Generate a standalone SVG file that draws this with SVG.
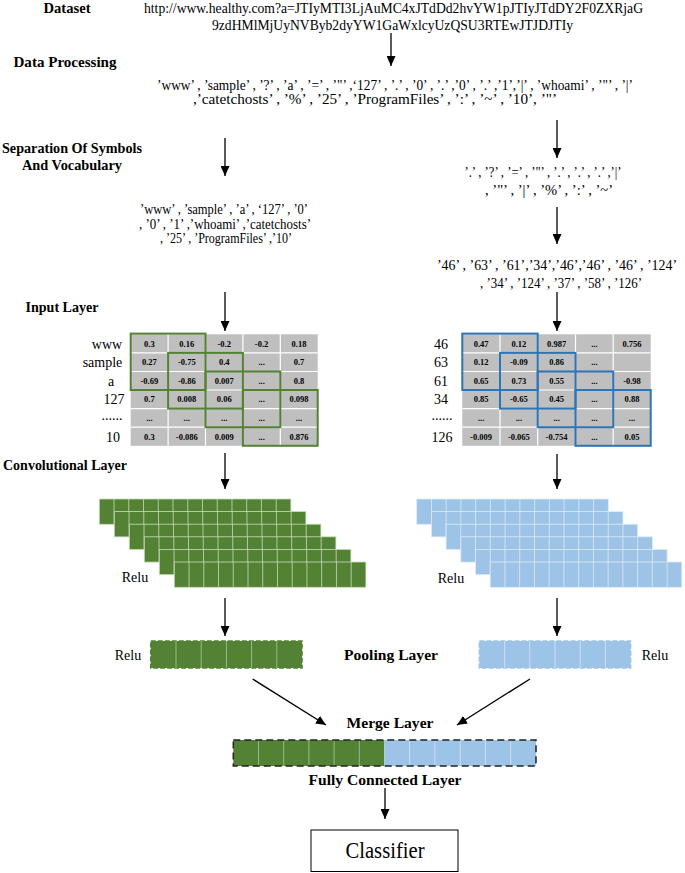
<svg xmlns="http://www.w3.org/2000/svg" xmlns:xlink="http://www.w3.org/1999/xlink" width="685" height="873" viewBox="0 0 685 873" font-family="'Liberation Serif', 'Times New Roman', serif">
<style>
text{font-family:"Liberation Serif","Times New Roman",serif;fill:#000}
.lbl{font-family:"Liberation Serif","Times New Roman",serif;font-weight:bold;font-size:14.5px;text-anchor:middle}
.t{font-size:14px;text-anchor:middle}
.rl{font-size:14px;text-anchor:middle}
.cv{font-size:8.5px;font-weight:bold;text-anchor:middle}
.conn{stroke:#000;stroke-width:1.3;fill:none;marker-end:url(#ah)}
.grid{stroke:#fff;stroke-width:1.2;fill:none}
.gbox{fill:none;stroke:#548235;stroke-width:2}
.bbox{fill:none;stroke:#2E75B6;stroke-width:2}
.green{fill:#548235;stroke:#c9dcbc}
.blue{fill:#9DC3E6;stroke:#deebf7}
</style>
<defs>
<marker id="ah" markerUnits="userSpaceOnUse" markerWidth="10" markerHeight="9" refX="10" refY="4.5" orient="auto">
<path d="M0,0 L10,4.5 L0,9 z" fill="#000"/>
</marker>
<symbol id="layer" overflow="visible">
<rect x="0" y="0" width="191.6" height="25.3" stroke-width="0.8"/>
<path d="M14.74 0v25.3M29.48 0v25.3M44.22 0v25.3M58.96 0v25.3M73.7 0v25.3M88.44 0v25.3M103.18 0v25.3M117.92 0v25.3M132.66 0v25.3M147.4 0v25.3M162.14 0v25.3M176.88 0v25.3" stroke-width="0.8" fill="none"/>
</symbol>
<symbol id="pool" overflow="visible">
<rect x="0" y="0" width="151.2" height="27" stroke-width="1.6" stroke-dasharray="5 2"/>
<path d="M25.2 0v27M50.4 0v27M75.6 0v27M100.8 0v27M126 0v27" stroke-width="0.8" fill="none"/>
</symbol>
</defs>
<rect width="685" height="873" fill="#fff"/>

<g id="labels">
<text class="lbl" x="67" y="13" textLength="47" lengthAdjust="spacingAndGlyphs">Dataset</text>
<text class="lbl" x="65" y="67" textLength="103" lengthAdjust="spacingAndGlyphs">Data Processing</text>
<text class="lbl" x="72" y="153" textLength="140" lengthAdjust="spacingAndGlyphs">Separation Of Symbols</text>
<text class="lbl" x="72" y="170" textLength="100" lengthAdjust="spacingAndGlyphs">And Vocabulary</text>
<text class="lbl" x="62" y="312" textLength="73" lengthAdjust="spacingAndGlyphs">Input Layer</text>
<text class="lbl" x="65" y="470" textLength="124" lengthAdjust="spacingAndGlyphs">Convolutional Layer</text>
<text class="lbl" x="391" y="660" textLength="94" lengthAdjust="spacingAndGlyphs">Pooling Layer</text>
<text class="lbl" x="390" y="728" textLength="87" lengthAdjust="spacingAndGlyphs">Merge Layer</text>
<text class="lbl" x="385" y="785" textLength="153" lengthAdjust="spacingAndGlyphs">Fully Connected Layer</text>
</g>

<g id="dataset">
<text class="t" x="393.5" y="13" textLength="499" lengthAdjust="spacingAndGlyphs">http://www.healthy.com?a=JTIyMTI3LjAuMC4xJTdDd2hvYW1pJTIyJTdDY2F0ZXRjaG</text>
<text class="t" x="392.5" y="30" textLength="361" lengthAdjust="spacingAndGlyphs">9zdHMlMjUyNVByb2dyYW1GaWxlcyUzQSU3RTEwJTJDJTIy</text>
</g>

<g id="processing">
<text class="t" x="395" y="90" font-size="13" textLength="476" lengthAdjust="spacingAndGlyphs">’www’ , ’sample’ , ’?’ , ’a’ , ’=’ , ’"’ ,‘127’ , ’.’ , ’0’ , ’.’ ,’0’ , ’.’ ,’1’,’|’ , ’whoami’ , ’"’ , ’|’</text>
<text class="t" x="375" y="104" font-size="13" textLength="364" lengthAdjust="spacingAndGlyphs">,’catetchosts’ , ’%’ , ’25’ , ’ProgramFiles’ , ’:’ , ’~’ , ’10’, ’"’</text>
</g>

<g id="vocab">
<text class="t" x="224" y="214" textLength="168" lengthAdjust="spacingAndGlyphs">’www’ , ’sample’ , ’a’ , ‘127’ , ’0’</text>
<text class="t" x="225" y="229" textLength="172" lengthAdjust="spacingAndGlyphs">, ’0’ , ’1’ ,’whoami’ ,’catetchosts’</text>
<text class="t" x="226" y="243" textLength="132" lengthAdjust="spacingAndGlyphs">, ’25’ , ’ProgramFiles’ ,’10’</text>
</g>

<g id="symbols">
<text class="t" x="543" y="177" textLength="157" lengthAdjust="spacingAndGlyphs">’.’ , ’?’ , ’=’ , ’"’ , ’.’ , ’.’ , ’.’ ,’|’</text>
<text class="t" x="549" y="195" textLength="128" lengthAdjust="spacingAndGlyphs">, ’"’ , ’|’ , ’%’ , ’:’ , ’~’</text>
</g>

<g id="codes">
<text class="t" x="557" y="270" textLength="240" lengthAdjust="spacingAndGlyphs">’46’ , ’63’ , ’61’,’34’,’46’,’46’ , ’46’ , ’124’</text>
<text class="t" x="561" y="288" textLength="162" lengthAdjust="spacingAndGlyphs">, ’34’ , ’124’ , ’37’ , ’58’ , ’126’</text>
</g>

<g id="matrix-left">
<rect x="130.7" y="334.3" width="187" height="111.5" fill="#BFBFBF"/>
<path class="grid" d="M168.1 334.3v111.5M205.5 334.3v111.5M242.9 334.3v111.5M280.3 334.3v111.5M130.7 352.9h187M130.7 371.5h187M130.7 390h187M130.7 408.6h187M130.7 427.2h187"/>
<text class="rl" x="107" y="348.5">www</text>
<text class="rl" x="102.5" y="367">sample</text>
<text class="rl" x="111" y="385.5">a</text>
<text class="rl" x="114" y="404">127</text>
<text class="rl" x="112" y="420">......</text>
<text class="rl" x="113" y="441.5">10</text>
<g>
<text class="cv" x="149.4" y="346.6">0.3</text><text class="cv" x="186.8" y="346.6">0.16</text><text class="cv" x="224.2" y="346.6">-0.2</text><text class="cv" x="261.6" y="346.6">-0.2</text><text class="cv" x="299" y="346.6">0.18</text>
<text class="cv" x="149.4" y="365.2">0.27</text><text class="cv" x="186.8" y="365.2">-0.75</text><text class="cv" x="224.2" y="365.2">0.4</text><text class="cv" x="261.6" y="365.2">...</text><text class="cv" x="299" y="365.2">0.7</text>
<text class="cv" x="149.4" y="383.8">-0.69</text><text class="cv" x="186.8" y="383.8">-0.86</text><text class="cv" x="224.2" y="383.8">0.007</text><text class="cv" x="261.6" y="383.8">...</text><text class="cv" x="299" y="383.8">0.8</text>
<text class="cv" x="149.4" y="402.3">0.7</text><text class="cv" x="186.8" y="402.3">0.008</text><text class="cv" x="224.2" y="402.3">0.06</text><text class="cv" x="261.6" y="402.3">...</text><text class="cv" x="299" y="402.3">0.098</text>
<text class="cv" x="149.4" y="420.9">...</text><text class="cv" x="186.8" y="420.9">...</text><text class="cv" x="224.2" y="420.9">...</text><text class="cv" x="261.6" y="420.9">...</text><text class="cv" x="299" y="420.9">...</text>
<text class="cv" x="149.4" y="439.5">0.3</text><text class="cv" x="186.8" y="439.5">-0.086</text><text class="cv" x="224.2" y="439.5">0.009</text><text class="cv" x="261.6" y="439.5">...</text><text class="cv" x="299" y="439.5">0.876</text>
</g>
<rect class="gbox" x="130.7" y="333.6" width="74.8" height="56.4"/>
<rect class="gbox" x="168.1" y="352.9" width="74.8" height="55.7"/>
<rect class="gbox" x="205.5" y="371.5" width="74.8" height="55.7"/>
<rect class="gbox" x="242.9" y="390" width="74.8" height="55.8"/>
</g>

<g id="matrix-right">
<rect x="462.3" y="334.3" width="188.4" height="111.5" fill="#BFBFBF"/>
<path class="grid" d="M500 334.3v111.5M537.7 334.3v111.5M575.5 334.3v111.5M613.2 334.3v111.5M462.3 352.9h188.4M462.3 371.5h188.4M462.3 390h188.4M462.3 408.6h188.4M462.3 427.2h188.4"/>
<text class="rl" x="441" y="348.5">46</text>
<text class="rl" x="441" y="367">63</text>
<text class="rl" x="441" y="385.5">61</text>
<text class="rl" x="441" y="404">34</text>
<text class="rl" x="442" y="420">......</text>
<text class="rl" x="442" y="441.5">126</text>
<g>
<text class="cv" x="481.1" y="346.6">0.47</text><text class="cv" x="518.9" y="346.6">0.12</text><text class="cv" x="556.6" y="346.6">0.987</text><text class="cv" x="594.4" y="346.6">...</text><text class="cv" x="632" y="346.6">0.756</text>
<text class="cv" x="481.1" y="365.2">0.12</text><text class="cv" x="518.9" y="365.2">-0.09</text><text class="cv" x="556.6" y="365.2">0.86</text><text class="cv" x="594.4" y="365.2">...</text>
<text class="cv" x="481.1" y="383.8">0.65</text><text class="cv" x="518.9" y="383.8">0.73</text><text class="cv" x="556.6" y="383.8">0.55</text><text class="cv" x="594.4" y="383.8">...</text><text class="cv" x="632" y="383.8">-0.98</text>
<text class="cv" x="481.1" y="402.3">0.85</text><text class="cv" x="518.9" y="402.3">-0.65</text><text class="cv" x="556.6" y="402.3">0.45</text><text class="cv" x="594.4" y="402.3">...</text><text class="cv" x="632" y="402.3">0.88</text>
<text class="cv" x="481.1" y="420.9">...</text><text class="cv" x="518.9" y="420.9">...</text><text class="cv" x="556.6" y="420.9">...</text><text class="cv" x="594.4" y="420.9">...</text><text class="cv" x="632" y="420.9">...</text>
<text class="cv" x="481.1" y="439.5">-0.009</text><text class="cv" x="518.9" y="439.5">-0.065</text><text class="cv" x="556.6" y="439.5">-0.754</text><text class="cv" x="594.4" y="439.5">...</text><text class="cv" x="632" y="439.5">0.05</text>
</g>
<rect class="bbox" x="462.3" y="333.6" width="75.4" height="56.4"/>
<rect class="bbox" x="500" y="352.9" width="75.5" height="55.7"/>
<rect class="bbox" x="537.7" y="371.5" width="75.5" height="55.7"/>
<rect class="bbox" x="575.5" y="390" width="75.2" height="55.8"/>
</g>

<g id="conv-left">
<use href="#layer" class="green" x="99.3" y="499"/>
<use href="#layer" class="green" x="114.3" y="511.6"/>
<use href="#layer" class="green" x="129.3" y="524.2"/>
<use href="#layer" class="green" x="144.3" y="536.8"/>
<use href="#layer" class="green" x="159.3" y="549.4"/>
<use href="#layer" class="green" x="174.3" y="562"/>
<text class="rl" x="135" y="582">Relu</text>
</g>

<g id="conv-right">
<use href="#layer" class="blue" x="416.7" y="499"/>
<use href="#layer" class="blue" x="431.4" y="511.6"/>
<use href="#layer" class="blue" x="446.1" y="524.2"/>
<use href="#layer" class="blue" x="460.8" y="536.8"/>
<use href="#layer" class="blue" x="475.5" y="549.4"/>
<use href="#layer" class="blue" x="490.2" y="562"/>
<text class="rl" x="451" y="583">Relu</text>
</g>

<g id="pool-left">
<use href="#pool" x="150.8" y="641" style="fill:#548235;stroke:#548235"/>
<path d="M176 641v27M201.2 641v27M226.4 641v27M251.6 641v27M276.8 641v27" stroke="#a9c99a" stroke-width="0.8"/>
<text class="rl" x="128" y="660">Relu</text>
</g>

<g id="pool-right">
<use href="#pool" x="479.4" y="641" style="fill:#9DC3E6;stroke:#9DC3E6"/>
<path d="M504.6 641v27M529.8 641v27M555 641v27M580.2 641v27M605.4 641v27" stroke="#d6e6f5" stroke-width="0.8"/>
<text class="rl" x="655" y="660">Relu</text>
</g>

<g id="merge">
<rect x="233.3" y="740" width="151" height="26" fill="#548235"/>
<rect x="384.3" y="740" width="151.7" height="26" fill="#9DC3E6"/>
<path d="M258.5 740v26M283.7 740v26M308.9 740v26M334.1 740v26M359.3 740v26" stroke="#a9c99a" stroke-width="0.8"/>
<path d="M409.6 740v26M434.9 740v26M460.2 740v26M485.4 740v26M510.7 740v26" stroke="#d6e6f5" stroke-width="0.8"/>
<rect x="233.3" y="740" width="302.7" height="26" fill="none" stroke="#222" stroke-width="1.5" stroke-dasharray="7 4"/>
</g>

<g id="classifier">
<rect x="311" y="830" width="147" height="41.5" fill="#fff" stroke="#000" stroke-width="1"/>
<text x="385" y="858" font-size="23" text-anchor="middle" textLength="79" lengthAdjust="spacingAndGlyphs">Classifier</text>
</g>

<g id="connectors">
<line class="conn" x1="391" y1="33" x2="391" y2="66"/>
<line class="conn" x1="225" y1="138" x2="225" y2="176"/>
<line class="conn" x1="557" y1="120" x2="557" y2="158"/>
<line class="conn" x1="557" y1="207" x2="557" y2="244"/>
<line class="conn" x1="225" y1="292" x2="225" y2="331"/>
<line class="conn" x1="557" y1="292" x2="557" y2="331"/>
<line class="conn" x1="225" y1="453" x2="225" y2="489"/>
<line class="conn" x1="557" y1="454" x2="557" y2="489"/>
<line class="conn" x1="225" y1="598" x2="225" y2="636"/>
<line class="conn" x1="557" y1="598" x2="557" y2="636"/>
<line class="conn" x1="252.6" y1="679" x2="326" y2="725"/>
<line class="conn" x1="530" y1="679" x2="457" y2="725"/>
<line class="conn" x1="385" y1="788" x2="385" y2="819"/>
</g>
</svg>
